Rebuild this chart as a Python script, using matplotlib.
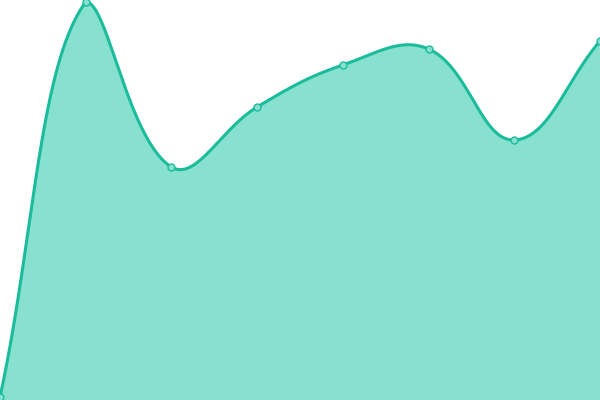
import numpy as np
import matplotlib
matplotlib.use("Agg")
import matplotlib.pyplot as plt

x_pos = [0, 1, 2, 3, 4, 5, 6, 7]
values = [3, 398, 233, 293, 335, 351, 260, 359]

line_color = "#1abc9c"
fill_color = "#88e0cf"
tension = 0.4

fig = plt.figure(figsize=(6, 4), dpi=100)
ax = fig.add_axes([0, 0, 1, 1])
ax.set_xlim(0, 7)
ax.set_ylim(0, 400)
ax.axis("off")

# spline in pixel space, control points kept inside the plot area
px = np.array(x_pos, dtype=float) * 600 / 7
py = np.array(values, dtype=float)
pts = np.column_stack([px, py])
n = len(pts)

cps = []
for i in range(n):
    prev = pts[max(i - 1, 0)]
    nxt = pts[min(i + 1, n - 1)]
    p = pts[i]
    d01 = np.hypot(*(p - prev))
    d12 = np.hypot(*(nxt - p))
    s01 = d01 / (d01 + d12)
    s12 = d12 / (d01 + d12)
    cin = p - tension * s01 * (nxt - prev)
    cout = p + tension * s12 * (nxt - prev)
    cin = np.clip(cin, [0, 0], [600, 400])
    cout = np.clip(cout, [0, 0], [600, 400])
    cps.append((cin, cout))

t = np.linspace(0, 1, 80)[:, None]
curve = []
for i in range(n - 1):
    p0 = pts[i]
    c0 = cps[i][1]
    c1 = cps[i + 1][0]
    p1 = pts[i + 1]
    seg = ((1 - t) ** 3) * p0 + 3 * ((1 - t) ** 2) * t * c0 + 3 * (1 - t) * t ** 2 * c1 + t ** 3 * p1
    curve.append(seg)
curve = np.vstack(curve)
cx = curve[:, 0] * 7 / 600
cy = curve[:, 1]

ax.fill_between(cx, 0, cy, color=fill_color, lw=0)
ax.plot(cx, cy, color=line_color, lw=2.2, solid_capstyle="round")
ax.plot(x_pos, values, "o", ms=5, mfc=fill_color, mec=line_color, mew=1, clip_on=False)

fig.savefig("out.png", dpi=100)
